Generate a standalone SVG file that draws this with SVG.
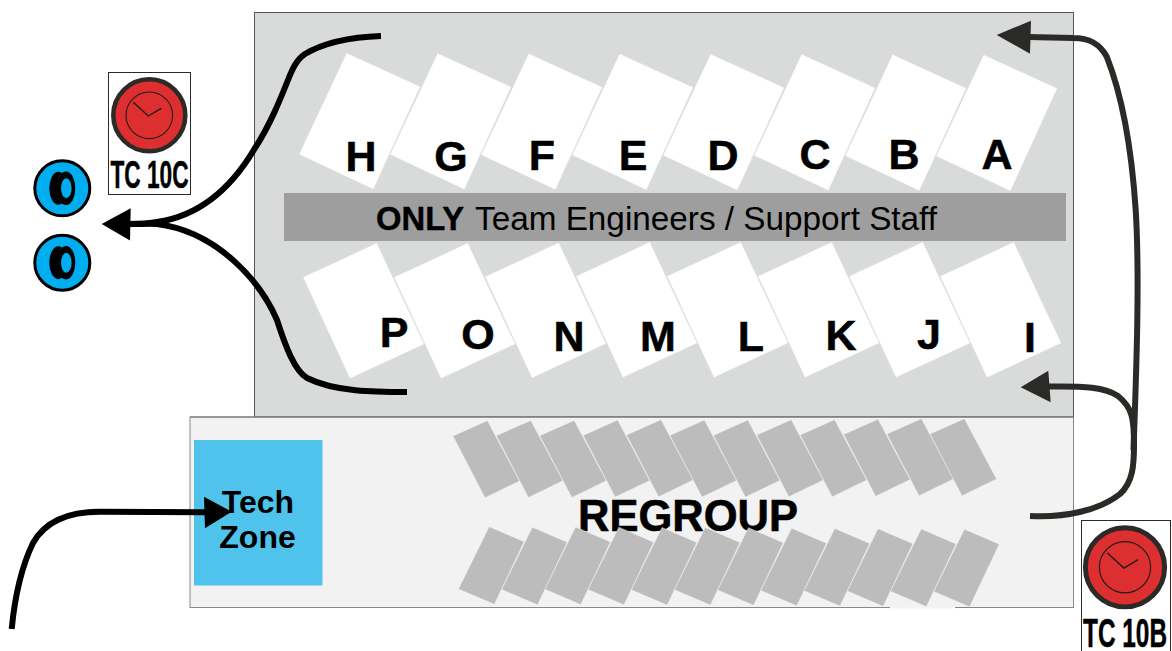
<svg xmlns="http://www.w3.org/2000/svg" xmlns:xlink="http://www.w3.org/1999/xlink" width="1172" height="651" viewBox="0 0 1172 651">
<style>
text{font-family:"Liberation Sans",Arial,sans-serif;fill:#000}
.l{font-size:43px;font-weight:700;text-anchor:middle;stroke:#000;stroke-width:.5}
.w{fill:#fff;stroke:#efefef;stroke-width:.4}
.g{fill:#bcbcbc;stroke:#f2f2f2;stroke-width:.4}
.c{fill:none;stroke:#000;stroke-width:6}
.d{fill:none;stroke:#2b2a26;stroke-width:6}
.b{fill:#fff;stroke:#2b2a26;stroke-width:1}
.tc{font-weight:700;stroke:#000;stroke-width:.5}
.tire{fill:#00aeef;stroke:#000;stroke-width:3}
</style>
<defs>
<polygon id="wt" class="w" points="346.7,53.3 420,86.7 373.3,189 299.3,154.3"/>
<polygon id="wb" class="w" points="376.7,243.3 424,344 350,378.3 303.3,277.3"/>
<polygon id="gt" class="g" points="453,436 487.4,420.7 519.5,481 485,497.7"/>
<polygon id="gb" class="g" points="489.2,526.7 524,541.7 494.4,604.3 458.5,589"/>
<g id="clock">
<circle cx="0" cy="0" r="36" fill="#dd2e30" stroke="#2b2a26" stroke-width="4.5"/>
<circle cx="0" cy="0" r="23.3" fill="none" stroke="#1f1f1f" stroke-width="1.1"/>
<path d="M-16-13 L-1 .7 L12-7" fill="none" stroke="#1f1f1f" stroke-width="1.4"/>
</g>
<g id="tirei">
<circle r="27.5" class="tire"/>
<ellipse cx="-4" cy="0" rx="9" ry="16.500" fill="#000"/>
<path d="M-1.500-14 C-5.500-7 -5.500 7 -1.500 14" fill="none" stroke="#00aeef" stroke-width=".7"/>
<ellipse cx="3.700" cy="0" rx="9.300" ry="16.800" fill="#000"/>
<ellipse cx="4" cy="0" rx="5.300" ry="10" fill="#00aeef"/>
</g>
</defs>
<rect id="pit" x="254.5" y="12.5" width="819" height="404" fill="#d9dbda" stroke="#555" stroke-width="1"/>
<g id="boxes-top">
<g id="box-H"><use xlink:href="#wt"/></g>
<g id="box-G"><use xlink:href="#wt" x="91" y="0.2"/></g>
<g id="box-F"><use xlink:href="#wt" x="182" y="0.5"/></g>
<g id="box-E"><use xlink:href="#wt" x="273" y="0.7"/></g>
<g id="box-D"><use xlink:href="#wt" x="364" y="1"/></g>
<g id="box-C"><use xlink:href="#wt" x="455" y="1.2"/></g>
<g id="box-B"><use xlink:href="#wt" x="546" y="1.5"/></g>
<g id="box-A"><use xlink:href="#wt" x="637" y="1.7"/></g>
</g>
<g id="boxes-bottom">
<g id="box-I"><use xlink:href="#wb" x="637" y="-1"/></g>
<g id="box-J"><use xlink:href="#wb" x="546" y="-1"/></g>
<g id="box-K"><use xlink:href="#wb" x="455" y="-1"/></g>
<g id="box-L"><use xlink:href="#wb" x="364" y="-1"/></g>
<g id="box-M"><use xlink:href="#wb" x="273" y="-1"/></g>
<g id="box-N"><use xlink:href="#wb" x="182" y="-.5"/></g>
<g id="box-O"><use xlink:href="#wb" x="91"/></g>
<g id="box-P"><use xlink:href="#wb"/></g>
</g>
<g id="band">
<rect x="284" y="193" width="782" height="48" fill="#9d9e9d"/>
<text x="376" y="230" font-size="33" font-weight="700" textLength="88" lengthAdjust="spacingAndGlyphs" stroke="#000" stroke-width=".4">ONLY</text>
<text x="475" y="230" font-size="33" textLength="462" lengthAdjust="spacingAndGlyphs">Team Engineers / Support Staff</text>
</g>
<g id="letters">
<text class="l" x="361" y="171">H</text>
<text class="l" x="451" y="171">G</text>
<text class="l" x="542" y="170">F</text>
<text class="l" x="633" y="170">E</text>
<text class="l" x="723" y="170">D</text>
<text class="l" x="815" y="169">C</text>
<text class="l" x="904" y="169">B</text>
<text class="l" x="997" y="169">A</text>
<text class="l" x="394" y="347">P</text>
<text class="l" x="478" y="349">O</text>
<text class="l" x="569" y="351">N</text>
<text class="l" x="658" y="351">M</text>
<text class="l" x="751" y="351">L</text>
<text class="l" x="841" y="350">K</text>
<text class="l" x="929" y="349">J</text>
<text class="l" x="1030" y="352">I</text>
</g>
<g id="regroup">
<rect x="190" y="417" width="883.5" height="190.5" fill="#f2f2f2" stroke="#888" stroke-width="1"/>
<path d="M1073 417H190" stroke="#888" stroke-width="1.5"/>
<path d="M890 607.5H955" stroke="#f4f4f4" stroke-width="2"/>
<text x="688" y="531" font-size="43.5" font-weight="700" text-anchor="middle" stroke="#000" stroke-width=".6">REGROUP</text>
</g>
<g id="regroup-top">
<use xlink:href="#gt"/><use xlink:href="#gt" x="43.4" y="-.3"/><use xlink:href="#gt" x="86.8" y="-.3"/><use xlink:href="#gt" x="130.2" y="-.6"/><use xlink:href="#gt" x="173.6" y="-1"/><use xlink:href="#gt" x="217" y="-.6"/><use xlink:href="#gt" x="260.4" y="-.6"/><use xlink:href="#gt" x="303.8" y="-1"/><use xlink:href="#gt" x="347.2" y="-1"/><use xlink:href="#gt" x="390.6" y="-1.5"/><use xlink:href="#gt" x="434" y="-2"/><use xlink:href="#gt" x="477" y="-2"/>
</g>
<g id="regroup-bottom">
<use xlink:href="#gb"/><use xlink:href="#gb" x="43.2" y=".5"/><use xlink:href="#gb" x="86.4" y=".3"/><use xlink:href="#gb" x="129.6" y=".5"/><use xlink:href="#gb" x="172.8" y=".8"/><use xlink:href="#gb" x="216" y=".8"/><use xlink:href="#gb" x="259.2" y="1"/><use xlink:href="#gb" x="302.4" y="1.5"/><use xlink:href="#gb" x="345.6" y="1.8"/><use xlink:href="#gb" x="388.8" y="2"/><use xlink:href="#gb" x="432" y="2.3"/><use xlink:href="#gb" x="475.2" y="2.5"/>
</g>
<g id="tech-zone">
<rect x="194" y="440" width="128.500" height="145.500" fill="#4fc3ec"/>
<text x="258" y="512.500" font-size="32" font-weight="700" text-anchor="middle">Tech</text>
<text x="257.500" y="547.700" font-size="32" font-weight="700" text-anchor="middle">Zone</text>
</g>
<g id="tc-10c">
<rect class="b" x="108.500" y="72.500" width="82" height="122"/>
<use xlink:href="#clock" x="149.300" y="115.300"/>
<text class="tc" x="110.500" y="187.500" font-size="38" textLength="78" lengthAdjust="spacingAndGlyphs">TC 10C</text>
</g>
<g id="tc-10b">
<rect class="b" x="1081.500" y="520.500" width="89" height="135"/>
<use xlink:href="#clock" transform="translate(1125 567.300) scale(1.1)"/>
<text class="tc" x="1083" y="647" font-size="40" textLength="84" lengthAdjust="spacingAndGlyphs">TC 10B</text>
</g>
<g id="tire-1"><use xlink:href="#tirei" x="62.300" y="188.300"/></g>
<g id="tire-2"><use xlink:href="#tirei" x="62.300" y="262.700"/></g>
<g id="connectors">
<path class="c" d="M381 36 C355 37 325 42 305 54 C296 60 292 70 288 80 C280 100 270 125 255 148 C235 182 205 215 157 222 C148 224 140 224 128 224"/>
<path class="c" d="M407 392 C375 392 335 392 307 378 C295 371 286 348 277 320 C262 285 220 232 157 224 C150 223.500 140 224 128 224"/>
<polygon points="101.700,224 130.700,208.300 130,240.500" fill="#000"/>
<path class="d" d="M1030 516 C1065 518 1100 510 1120 494 C1133 482 1134 465 1134 445 C1134 420 1133 408 1118 396 C1105 387 1085 386 1048 386.500"/>
<polygon points="1020.700,387.300 1048.300,370.700 1050.700,402.300" fill="#2b2a26"/>
<path class="d" d="M1133.500 450 C1136 380 1140 280 1135.700 210 C1131 140 1120 90 1106.700 56.700 C1100 44 1090 38 1073 38 L1028 37"/>
<polygon points="996.700,35 1031,20.700 1030,53.700" fill="#2b2a26"/>
<path class="c" d="M11.700 629 C14 605 19 572 33 543 C43 525 62 511.700 100 511.700 L207 512.300"/>
<polygon points="231.700,511.700 204,496.700 205,528.300" fill="#000"/>
</g>
</svg>
